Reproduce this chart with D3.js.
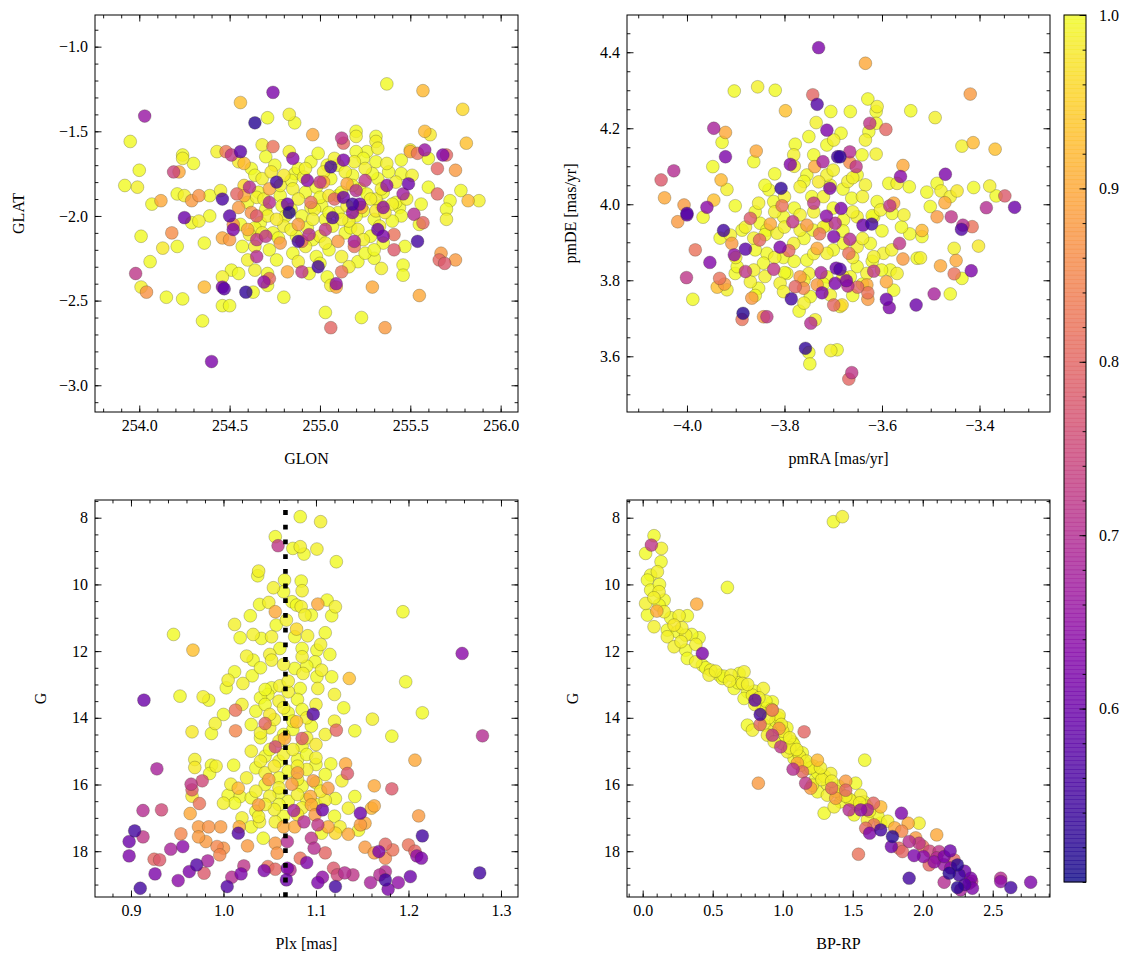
<!DOCTYPE html>
<html><head><meta charset="utf-8">
<script src="https://cdn.jsdelivr.net/npm/d3@7"></script>
<style>
body{margin:0;background:#fff}
svg{display:block}
text{font-family:"Liberation Serif","DejaVu Serif",serif;fill:#000}
</style>
</head><body>
<svg id="c" width="1133" height="965"></svg>
<script>
// ---------------- DATA ----------------
// [GLON, GLAT, membership probability]
const skyStars = [
[254.03,-1.41,0.66],[253.95,-1.56,1.0],[254.56,-1.33,0.93],[254.74,-1.27,0.62],[254.64,-1.45,0.52],[254.71,-1.42,1.0],
[254.83,-1.40,0.99],[254.86,-1.45,1.0],[254.68,-1.58,0.99],[254.74,-1.59,0.82],[254.00,-1.73,1.0],[253.92,-1.82,1.0],
[253.99,-1.83,0.99],[254.24,-1.64,1.0],[254.24,-1.66,0.99],[254.30,-1.69,1.0],[254.19,-1.74,0.74],[254.22,-1.74,0.9],
[254.43,-1.62,0.99],[254.48,-1.62,0.83],[254.51,-1.64,0.72],[254.56,-1.62,0.58],[254.55,-1.68,0.98],[254.58,-1.69,0.92],
[254.65,-1.89,0.99],[254.85,-1.66,0.64],[254.86,-1.75,1.0],[254.07,-1.93,1.0],[254.12,-1.91,0.9],[254.21,-1.87,1.0],
[254.25,-1.88,0.99],[254.29,-1.91,0.88],[254.33,-1.88,0.87],[254.39,-1.88,1.0],[254.45,-1.85,0.99],[254.46,-1.90,0.56],
[254.54,-1.87,0.8],[254.61,-1.83,0.7],
[255.37,-1.22,1.0],[255.57,-1.26,0.92],[255.79,-1.37,0.96],[254.96,-1.52,0.9],[255.12,-1.54,0.72],[255.13,-1.57,0.8],
[255.20,-1.50,1.0],[255.20,-1.53,0.99],[255.31,-1.53,1.0],[255.31,-1.56,0.99],[255.26,-1.62,1.0],[255.32,-1.60,0.99],
[255.20,-1.62,1.0],[255.31,-1.68,1.0],[255.19,-1.68,0.99],[255.58,-1.50,0.92],[255.61,-1.52,0.98],[255.81,-1.57,0.93],
[255.50,-1.61,0.99],[255.50,-1.62,0.9],[255.54,-1.63,0.82],[255.58,-1.61,0.66],[255.60,-1.66,1.0],[255.68,-1.64,0.63],
[255.70,-1.64,0.8],[255.45,-1.67,1.0],[255.65,-1.72,0.8],[255.75,-1.73,0.88],[255.45,-1.75,1.0],[255.51,-1.76,0.99],
[255.60,-1.83,1.0],[255.78,-1.85,1.0],[255.65,-1.87,0.8],[255.72,-1.91,1.0],[255.82,-1.91,0.92],[255.88,-1.91,0.99],
[255.70,-1.96,1.0],[255.06,-1.71,0.55],[255.13,-1.67,0.62],[255.02,-1.80,0.9],[254.93,-1.79,0.64],[255.25,-1.79,0.72],
[255.15,-1.81,0.9],[255.20,-1.85,0.7],[255.37,-1.82,0.65],[255.49,-1.81,0.6],[255.46,-1.87,0.67],[255.13,-1.89,0.6],
[255.18,-1.93,0.55],[255.08,-1.90,0.8],[255.23,-1.95,0.9],[255.01,-1.94,1.0],[254.95,-1.95,0.99],[255.10,-1.88,1.0],
[255.31,-1.90,0.99],[255.34,-1.94,1.0],[255.40,-1.93,0.99],[255.44,-1.95,1.0],[255.31,-1.97,0.98],[255.56,-1.93,1.0],
[254.25,-2.01,0.6],[254.29,-2.04,1.0],[254.33,-2.03,0.99],[254.39,-2.00,1.0],[254.50,-2.00,0.58],[254.52,-2.08,0.62],
[254.01,-2.12,1.0],[254.18,-2.10,0.86],[254.13,-2.19,0.98],[254.21,-2.18,1.0],[254.36,-2.16,1.0],[254.46,-2.13,0.9],
[254.50,-2.14,0.88],[254.57,-2.18,1.0],[254.61,-2.11,0.99],[254.56,-2.05,1.0],[254.65,-2.14,0.72],[254.70,-2.12,0.72],
[254.65,-2.24,0.7],[254.64,-2.32,0.99],[254.71,-2.34,1.0],[254.80,-2.48,1.0],[254.06,-2.27,1.0],[253.98,-2.34,0.72],
[254.01,-2.42,0.99],[254.04,-2.45,0.87],[254.15,-2.48,1.0],[254.24,-2.49,1.0],[254.36,-2.42,0.92],[254.35,-2.62,1.0],
[254.40,-2.86,0.62],[254.46,-2.42,0.62],[254.47,-2.43,0.58],[254.46,-2.53,1.0],[254.50,-2.53,1.0],[254.46,-2.36,0.99],
[254.51,-2.32,1.0],[254.55,-2.34,1.0],[254.59,-2.45,0.53],[254.63,-2.45,1.0],[254.69,-2.39,0.65],[254.72,-2.37,0.8],
[254.71,-2.41,1.0],[254.82,-2.33,0.9],[254.90,-2.33,0.72],[254.83,-1.98,0.52],[254.88,-2.15,0.55],
[255.07,-2.01,0.57],[255.18,-1.98,0.64],[254.94,-2.11,0.7],[255.03,-2.08,0.72],[255.19,-2.15,0.68],[255.19,-2.18,0.82],
[255.32,-2.08,0.6],[255.35,-2.12,0.62],[255.41,-2.11,0.82],[255.41,-2.20,0.78],[255.54,-2.15,0.55],[255.47,-2.18,1.0],
[255.52,-1.99,0.7],[255.57,-2.04,0.8],[255.70,-2.02,0.99],[255.55,-2.05,1.0],[255.67,-2.22,0.88],[255.75,-2.26,0.88],
[255.66,-2.26,0.8],[255.69,-2.28,0.78],[255.21,-2.27,1.0],[255.30,-2.25,1.0],[255.34,-2.31,0.99],[255.46,-2.29,1.0],
[255.46,-2.35,1.0],[255.29,-2.42,0.9],[255.55,-2.47,0.9],[255.03,-2.57,1.0],[255.06,-2.66,0.8],[255.23,-2.60,1.0],
[255.36,-2.66,0.88],[254.99,-2.30,0.55],[255.09,-2.40,0.65],[255.09,-2.42,0.9],[255.12,-2.33,0.82],[255.04,-2.36,1.0],
[255.06,-2.41,0.99],[254.94,-2.34,1.0],
[254.62,-1.72,1.0],[254.68,-1.78,0.99],[254.75,-1.70,1.0],[254.80,-1.76,0.98],[254.88,-1.72,1.0],[254.95,-1.68,1.0],
[255.02,-1.74,0.99],[255.10,-1.70,1.0],[255.18,-1.76,1.0],[255.25,-1.72,0.99],[255.32,-1.78,1.0],[255.38,-1.74,1.0],
[254.58,-1.82,0.96],[254.66,-1.86,1.0],[254.72,-1.84,0.9],[254.78,-1.88,1.0],[254.85,-1.84,0.99],[254.92,-1.86,1.0],
[254.98,-1.83,1.0],[255.05,-1.88,0.98],[255.12,-1.86,1.0],[255.22,-1.84,1.0],[255.28,-1.90,0.99],[255.35,-1.86,1.0],
[255.42,-1.92,1.0],[254.55,-1.95,0.88],[254.62,-1.98,0.87],[254.70,-1.96,1.0],[254.76,-2.02,0.98],[254.84,-1.96,1.0],
[254.90,-2.00,1.0],[254.97,-1.96,0.99],[255.03,-2.02,1.0],[255.10,-1.98,1.0],[255.16,-2.03,0.99],[255.24,-1.97,1.0],
[255.30,-2.02,1.0],[255.36,-1.98,0.98],[255.45,-2.00,1.0],[254.52,-2.05,0.86],[254.60,-2.08,0.9],[254.67,-2.04,1.0],
[254.74,-2.10,1.0],[254.80,-2.06,0.99],[254.87,-2.12,1.0],[254.93,-2.07,1.0],[255.00,-2.12,0.99],[255.07,-2.06,1.0],
[255.14,-2.10,1.0],[255.21,-2.08,0.99],[255.28,-2.12,1.0],[254.64,-2.18,0.99],[254.72,-2.20,1.0],[254.78,-2.16,0.88],
[254.85,-2.22,1.0],[254.92,-2.18,0.99],[254.98,-2.24,1.0],[255.05,-2.20,1.0],[255.12,-2.24,0.99],[255.25,-2.22,1.0],
[254.82,-1.93,0.6],[254.72,-1.92,0.7],[254.95,-1.92,0.82],[254.88,-2.05,0.88],[255.00,-1.80,0.72],[254.76,-1.80,0.55],
[255.22,-1.93,0.62],[254.90,-2.15,0.8],[254.65,-2.00,0.78],[255.10,-2.15,0.88],[254.58,-1.88,0.9],[255.35,-1.95,0.65],
[254.70,-1.65,1.0],[254.83,-1.62,0.99],[254.99,-1.63,1.0],[255.08,-1.66,0.99],[255.24,-1.66,1.0],[255.37,-1.69,0.99],
[254.64,-1.76,1.0],[254.73,-1.74,0.98],[254.84,-1.79,1.0],[254.91,-1.77,0.99],[255.06,-1.78,1.0],[255.14,-1.74,0.99],
[255.29,-1.75,1.0],[255.42,-1.80,0.99],[254.60,-1.92,1.0],[254.69,-1.90,0.99],[254.79,-1.94,1.0],[254.88,-1.90,0.99],
[255.00,-1.89,1.0],[255.15,-1.94,0.99],[255.26,-1.87,1.0],[255.48,-1.90,0.99],[254.64,-2.07,1.0],[254.71,-2.00,0.99],
[254.81,-2.00,1.0],[254.96,-2.02,0.99],[255.05,-1.98,1.0],[255.12,-2.02,0.99],[255.20,-2.00,1.0],[255.33,-2.06,0.99],
[255.40,-2.03,1.0],[254.68,-2.10,0.99],[254.77,-2.13,1.0],[254.84,-2.08,0.99],[254.96,-2.14,1.0],[255.03,-2.16,0.99],
[255.17,-2.07,1.0],[255.24,-2.14,0.99],[255.35,-2.16,1.0],[254.60,-2.26,0.99],[254.76,-2.26,1.0],[254.88,-2.27,0.99],
[255.00,-2.28,1.0],[255.16,-2.30,0.99],[255.30,-2.20,1.0],[254.92,-1.72,0.99],[255.04,-1.70,1.0],[254.78,-1.82,0.99],
[255.18,-1.82,1.0],[255.34,-1.84,0.99]
];
// [pmRA, pmDE, membership probability]
const pmStars = [
[-3.730,4.412,0.62],[-3.903,4.298,1.0],[-3.855,4.309,0.99],[-3.819,4.300,1.0],[-3.742,4.288,0.8],[-3.733,4.263,0.57],
[-3.798,4.246,0.93],[-3.705,4.244,1.0],[-3.735,4.215,0.99],[-3.713,4.195,0.62],[-3.945,4.200,0.68],[-3.921,4.189,0.9],
[-3.928,4.163,1.0],[-3.921,4.125,0.62],[-3.858,4.140,0.9],[-3.863,4.112,1.0],[-3.947,4.099,1.0],[-4.027,4.088,0.7],
[-4.053,4.064,0.78],[-3.930,4.064,0.92],[-3.918,4.039,0.99],[-4.046,4.017,0.9],[-4.006,3.998,0.88],[-4.000,3.976,0.57],
[-3.959,3.992,0.64],[-3.945,4.011,0.93],[-3.901,3.996,1.0],[-3.778,4.158,1.0],[-3.781,4.130,0.99],[-3.750,4.178,1.0],
[-3.807,4.042,0.53],[-3.788,4.105,0.63],[-3.721,4.112,0.68],[-3.738,4.099,0.9],[-3.707,4.042,0.62],[-3.691,4.125,0.55],
[-3.805,3.996,0.82],[-3.740,4.003,0.72],[-3.832,4.038,1.0],[-3.853,4.003,0.99],[-3.822,4.007,1.0],[-3.768,4.046,0.99],
[-3.744,4.020,1.0],[-3.713,4.077,0.99],[-3.713,4.156,1.0],[-3.699,4.169,0.99],[-3.754,4.077,1.0],[-3.730,4.059,0.98],
[-3.706,4.050,1.0],
[-3.634,4.371,0.9],[-3.419,4.290,0.88],[-3.629,4.277,1.0],[-3.610,4.257,0.99],[-3.612,4.244,1.0],[-3.665,4.244,1.0],
[-3.541,4.246,1.0],[-3.491,4.228,0.99],[-3.625,4.213,0.72],[-3.592,4.197,0.8],[-3.612,4.213,1.0],[-3.684,4.187,1.0],
[-3.634,4.169,0.99],[-3.627,4.191,1.0],[-3.436,4.153,0.99],[-3.368,4.145,0.93],[-3.413,4.162,0.92],[-3.686,4.125,0.53],
[-3.666,4.138,0.7],[-3.666,4.110,0.86],[-3.653,4.099,0.72],[-3.641,4.130,1.0],[-3.612,4.132,0.99],[-3.557,4.102,0.9],
[-3.562,4.073,0.64],[-3.586,4.055,1.0],[-3.569,4.055,0.99],[-3.544,4.046,1.0],[-3.470,4.079,0.62],[-3.487,4.055,1.0],
[-3.479,4.035,0.99],[-3.508,4.032,1.0],[-3.446,4.035,0.98],[-3.412,4.044,1.0],[-3.379,4.048,0.99],[-3.366,4.022,1.0],
[-3.348,4.022,0.78],[-3.386,3.991,0.7],[-3.328,3.992,0.6],[-3.471,4.004,0.9],[-3.501,3.994,1.0],[-3.460,4.020,0.99],
[-3.584,3.996,0.72],[-3.576,4.003,0.9],[-3.684,3.989,0.62],[-3.610,4.007,1.0],[-3.634,4.051,0.99],[-3.662,4.016,1.0],
[-3.670,4.060,0.99],[-3.651,4.077,1.0],
[-4.000,3.972,0.6],[-4.019,3.954,0.88],[-3.967,3.966,1.0],[-3.925,3.931,0.55],[-3.932,3.911,1.0],[-3.911,3.919,0.99],
[-3.908,3.897,0.88],[-3.983,3.880,0.82],[-3.953,3.847,0.63],[-4.001,3.807,0.72],[-3.988,3.750,1.0],[-3.903,3.867,0.65],
[-3.880,3.882,0.58],[-3.880,3.823,0.72],[-3.933,3.805,0.82],[-3.923,3.790,0.88],[-3.938,3.782,0.93],[-3.901,3.818,1.0],
[-3.870,3.796,0.99],[-3.867,3.753,0.88],[-3.885,3.713,0.52],[-3.887,3.697,0.82],[-3.836,3.704,0.72],[-3.843,3.704,0.88],
[-3.786,3.751,0.55],[-3.770,3.719,1.0],[-3.746,3.687,0.7],[-3.737,3.696,0.99],[-3.757,3.621,0.53],[-3.750,3.610,1.0],
[-3.748,3.580,1.0],[-3.705,3.615,0.99],[-3.822,3.829,0.72],[-3.809,3.887,0.62],[-3.791,3.878,0.8],[-3.851,3.906,0.8],
[-3.870,3.963,0.78],[-3.829,3.948,0.9],[-3.783,3.954,0.72],[-3.754,3.945,0.88],[-3.714,3.969,0.64],[-3.696,3.950,0.7],
[-3.699,3.915,0.62],[-3.728,3.922,0.82],[-3.733,3.884,0.9],[-3.725,3.820,0.68],[-3.723,3.767,0.62],[-3.694,3.832,0.6],
[-3.696,3.792,0.62],[-3.778,3.783,0.8],[-3.761,3.779,0.85],[-3.768,3.809,0.88],[-3.733,3.788,0.88],[-3.699,3.735,0.8],
[-3.850,3.950,1.0],[-3.815,3.924,0.99],[-3.802,3.967,1.0],[-3.768,3.972,0.99],[-3.741,3.932,1.0],[-3.713,3.945,0.99],
[-3.836,3.871,1.0],[-3.781,3.897,0.99],[-3.754,3.853,1.0],[-3.713,3.871,0.99],[-3.843,3.845,1.0],[-3.809,3.792,0.99],
[-3.795,3.818,1.0],[-3.750,3.818,0.99],[-3.713,3.809,1.0],[-3.863,3.827,0.99],[-3.853,3.779,1.0],[-3.802,3.770,0.99],
[-3.747,3.757,1.0],[-3.706,3.761,0.99],[-3.897,3.836,1.0],[-3.918,3.775,0.99],[-3.887,3.932,1.0],[-3.863,3.911,0.99],
[-3.836,3.932,1.0],[-3.768,3.932,0.99],[-3.802,3.860,1.0],
[-3.487,3.967,0.88],[-3.458,3.967,0.72],[-3.434,3.945,0.7],[-3.437,3.934,0.57],[-3.415,3.941,0.82],[-3.639,3.945,0.6],
[-3.621,3.948,0.55],[-3.543,3.922,1.0],[-3.518,3.931,0.92],[-3.518,3.915,1.0],[-3.452,3.884,0.99],[-3.402,3.890,0.98],
[-3.448,3.852,0.9],[-3.480,3.838,0.9],[-3.452,3.817,0.82],[-3.436,3.805,1.0],[-3.417,3.825,0.62],[-3.564,3.897,0.72],
[-3.557,3.856,0.88],[-3.528,3.858,1.0],[-3.521,3.859,0.99],[-3.617,3.824,0.72],[-3.591,3.796,0.9],[-3.591,3.750,0.6],
[-3.585,3.728,0.62],[-3.530,3.735,0.6],[-3.493,3.764,0.68],[-3.460,3.764,1.0],[-3.576,3.774,1.0],[-3.569,3.818,0.99],
[-3.583,3.827,1.0],[-3.631,3.788,0.9],[-3.629,3.767,0.82],[-3.629,3.750,0.88],[-3.650,3.782,0.8],[-3.673,3.799,0.62],
[-3.670,3.785,0.7],[-3.686,3.829,0.57],[-3.666,3.908,0.7],[-3.668,3.871,0.82],[-3.662,3.557,0.72],[-3.668,3.540,0.8],
[-3.682,3.735,0.96],[-3.692,3.617,1.0],
[-3.679,3.959,1.0],[-3.651,3.967,0.99],[-3.617,3.967,1.0],[-3.603,3.985,0.99],[-3.579,3.976,1.0],[-3.555,3.972,0.99],
[-3.679,3.897,1.0],[-3.651,3.888,0.99],[-3.624,3.897,1.0],[-3.597,3.871,0.99],[-3.651,3.836,1.0],[-3.617,3.862,0.99],
[-3.665,3.809,1.0],[-3.631,3.818,0.99],[-3.601,3.827,1.0],[-3.686,3.731,0.99],
[-3.84,4.05,1.0],[-3.80,4.02,0.99],[-3.76,4.06,1.0],[-3.72,4.02,0.99],[-3.68,4.04,1.0],[-3.64,4.02,0.99],
[-3.86,3.98,1.0],[-3.82,3.98,0.99],[-3.78,3.99,1.0],[-3.74,3.98,0.99],[-3.70,3.99,1.0],[-3.66,3.98,0.99],[-3.62,3.97,1.0],
[-3.88,3.94,0.99],[-3.84,3.92,1.0],[-3.80,3.94,0.99],[-3.76,3.91,1.0],[-3.72,3.94,0.99],[-3.68,3.93,1.0],[-3.64,3.91,0.99],
[-3.60,3.93,1.0],[-3.86,3.88,1.0],[-3.82,3.86,0.99],[-3.78,3.85,1.0],[-3.74,3.87,0.99],[-3.70,3.88,1.0],[-3.66,3.86,0.99],
[-3.62,3.85,1.0],[-3.84,3.81,0.99],[-3.80,3.82,1.0],[-3.76,3.80,0.99],[-3.72,3.79,1.0],[-3.68,3.81,0.99],[-3.64,3.79,1.0],
[-3.78,4.10,0.99],[-3.74,4.13,1.0],[-3.70,4.09,0.99],[-3.82,4.08,1.0],[-3.66,4.07,0.99],[-3.90,3.86,0.99],[-3.86,3.76,1.0],
[-3.76,3.74,0.99],[-3.66,3.76,1.0],[-3.58,3.88,0.99],[-3.56,3.94,1.0]
];
// [Plx, G, membership probability]
const plxStars = [
[1.083,7.97,1.0],[1.105,8.12,0.99],[1.056,8.57,1.0],[1.059,8.84,0.72],[1.075,8.92,1.0],[1.083,8.87,0.99],
[1.087,9.09,1.0],[1.101,8.94,0.99],[1.122,9.32,1.0],[1.038,9.60,0.99],[1.037,9.74,1.0],[1.066,9.87,1.0],
[1.054,10.10,0.99],[1.065,10.22,1.0],[1.084,9.90,1.0],[1.085,10.19,0.99],[1.039,10.60,1.0],[1.049,10.54,0.99],
[1.056,10.82,0.9],[1.102,10.59,0.9],[1.112,10.47,1.0],[1.121,10.67,0.99],[1.117,10.94,1.0],[1.074,10.52,1.0],
[1.084,10.67,0.99],[1.079,10.62,1.0],[1.088,10.92,0.99],[1.095,10.92,1.0],[1.029,10.94,1.0],[1.012,11.20,0.99],
[0.946,11.50,1.0],[0.967,11.97,0.93],[1.018,11.60,1.0],[1.032,11.50,0.99],[1.041,11.62,1.0],[1.052,11.57,0.99],
[1.057,11.22,1.0],[1.068,11.07,0.99],[1.079,11.34,0.96],[1.077,11.57,1.0],[1.091,11.54,0.99],[1.110,11.45,1.0],
[1.032,12.27,1.0],[1.050,12.10,0.99],[1.061,11.92,1.0],[1.052,12.27,0.99],[1.085,11.92,1.0],[1.085,12.17,0.99],
[1.101,11.97,1.0],[1.105,11.80,0.99],[1.099,12.32,1.0],[1.136,12.82,0.93],[1.194,10.82,1.0],[1.197,12.92,1.0],
[1.258,12.07,0.64],[1.012,12.62,1.0],[1.005,12.87,0.99],[1.003,13.10,1.0],[1.021,12.97,0.99],[1.031,12.74,1.0],
[1.052,13.10,1.0],[1.061,13.04,0.99],[1.048,13.30,1.0],[1.070,13.22,0.99],[1.077,12.52,1.0],[1.086,12.67,0.99],
[1.101,12.77,1.0],[1.106,12.57,0.99],[1.117,12.77,1.0],[1.102,13.12,0.99],[1.083,13.12,1.0],
[0.914,13.47,0.6],[0.953,13.35,1.0],[0.978,13.37,0.99],[0.984,13.47,1.0],[1.013,13.77,0.82],[1.097,13.89,0.57],
[1.122,14.37,0.8],[1.142,14.39,1.0],[1.161,14.04,0.99],[1.182,14.55,1.0],[1.215,13.85,1.0],[1.280,14.54,0.7],
[1.207,15.27,0.9],[1.182,16.13,0.78],[1.163,16.04,0.9],[1.163,16.64,0.9],[1.160,16.71,0.92],[1.142,16.36,1.0],
[1.148,16.86,0.6],[1.211,16.94,0.88],[1.215,17.54,0.55],[1.200,17.81,0.82],[1.207,18.00,0.8],[1.214,18.21,0.62],
[1.209,18.14,0.65],[1.277,18.65,0.55],[1.202,18.76,0.6],[1.189,18.94,0.65],[1.178,19.14,0.62],[1.175,18.86,0.55],
[1.175,18.61,0.7],[1.169,18.71,0.7],[1.159,18.94,0.68],[1.168,18.01,0.62],[1.175,17.79,0.8],[1.183,17.96,0.82],
[1.175,18.21,0.85],[1.153,17.88,0.88],[1.163,18.05,0.88],[1.110,18.05,0.8],[1.140,18.71,0.72],[1.131,18.65,0.7],
[1.123,18.71,0.75],[1.119,18.51,0.78],[1.107,18.78,0.65],[1.102,18.94,0.62],[1.121,19.06,0.55],[1.090,18.34,0.62],
[1.083,18.21,0.82],[1.098,17.91,0.7],[1.095,17.61,0.72],[1.102,17.21,0.72],[1.087,17.12,0.7],[1.107,16.76,0.6],
[1.076,16.78,0.68],[1.069,17.71,0.7],[1.069,18.51,0.62],[1.068,18.86,0.6],[1.072,18.56,0.7],[1.056,18.54,0.8],
[1.048,18.46,0.82],[1.044,18.58,0.62],[1.019,18.68,0.62],[1.009,18.78,0.7],[1.022,18.44,0.72],[1.004,19.06,0.57],
[0.979,18.66,0.78],[0.983,18.29,0.68],[0.971,18.41,0.57],[0.963,18.61,0.62],[0.951,18.88,0.64],[0.926,18.68,0.62],
[0.910,19.11,0.55],[0.925,18.24,0.8],[0.931,18.26,0.78],[0.898,18.14,0.62],[0.898,17.71,0.6],[0.904,17.39,0.55],
[0.913,17.57,0.72],[0.943,17.94,0.68],[0.956,17.86,0.64],[0.954,17.48,0.85],[0.913,16.78,0.7],[0.933,16.76,0.75],
[0.928,15.53,0.68],[0.965,15.99,0.72],[0.966,16.16,0.78],[0.977,15.89,0.75],[0.974,16.57,0.82],[0.964,16.87,0.9],
[0.966,16.35,0.98],[0.969,15.25,0.99],[0.969,15.49,0.98],[0.966,14.42,0.98],[0.987,14.47,1.0],[0.991,14.17,0.99],
[0.987,15.42,1.0],[0.992,15.45,0.99],[0.985,15.67,1.0],[1.011,15.42,1.0],[1.008,15.99,0.99],[1.005,16.32,1.0],
[1.016,16.11,0.92],[1.018,16.36,1.0],[1.000,16.56,0.99],[1.012,16.56,1.0],[1.017,17.27,0.9],[0.997,17.27,0.88],
[0.984,17.27,0.87],[0.973,17.27,0.88],[0.981,17.71,0.88],[0.993,17.86,0.85],[0.996,18.11,0.85],[1.000,17.91,0.87],
[0.973,17.57,0.88],[1.016,17.46,0.57],[1.026,17.84,0.88],[1.030,17.27,1.0],[1.039,17.12,0.99],[1.043,17.61,1.0],
[1.038,16.96,0.99],[1.056,17.76,0.88],[1.058,18.06,0.87],[1.065,17.27,0.9],[1.077,17.27,0.9],[1.056,17.12,0.99],
[1.099,16.91,0.88],[1.113,17.27,0.9],[1.121,17.46,0.96],[1.135,17.49,0.9],[1.148,17.21,0.88],[1.153,17.16,0.9],
[1.106,17.46,1.0],[1.126,17.27,0.99],[1.146,17.37,1.0],[1.135,16.71,0.99],[1.121,16.42,1.0],[1.110,16.47,0.99],
[1.113,16.11,0.88],[1.132,15.38,0.9],[1.134,15.67,0.78],[1.116,15.38,1.0],[1.128,15.89,0.99],[1.097,15.89,0.88],
[1.094,16.36,0.9],[1.095,16.61,0.9],[1.080,15.65,0.88],[1.074,15.99,0.88],[1.049,15.85,0.88],[1.038,16.61,0.88],
[1.085,14.62,0.78],[1.056,14.87,0.75],[1.045,14.17,0.8],[1.013,14.39,0.85],[1.066,14.62,0.9],[1.079,14.12,0.93],
[1.040,13.40,1.0],[1.060,13.50,0.99],[1.080,13.45,1.0],[1.100,13.60,0.99],[1.035,13.80,1.0],[1.050,13.90,0.98],
[1.070,13.85,1.0],[1.090,14.00,0.99],[1.030,14.20,1.0],[1.050,14.30,0.99],[1.075,14.35,1.0],[1.095,14.25,1.0],
[1.110,14.50,0.99],[1.040,14.60,1.0],[1.060,14.70,0.99],[1.085,14.85,1.0],[1.100,14.80,0.98],[1.030,15.00,0.99],
[1.045,15.15,1.0],[1.065,15.10,0.99],[1.080,15.25,1.0],[1.100,15.20,0.99],[1.035,15.50,1.0],[1.055,15.45,0.98],
[1.070,15.60,1.0],[1.090,15.55,0.99],[1.110,15.70,1.0],[1.025,15.80,0.99],[1.045,16.00,1.0],[1.060,16.10,0.99],
[1.085,16.05,1.0],[1.105,16.20,0.98],[1.030,16.40,1.0],[1.050,16.35,0.99],[1.070,16.50,1.0],[1.090,16.45,0.99],
[1.035,16.80,1.0],[1.055,16.75,0.99],[1.080,16.90,0.98],[1.120,16.95,1.0],[1.020,17.00,0.99],[1.065,16.95,1.0],
[1.045,13.60,1.0],[1.065,13.70,0.99],[1.085,13.75,1.0],[1.055,14.05,0.99],[1.075,14.10,1.0],[1.040,14.45,0.99],
[1.065,14.50,1.0],[1.090,14.60,0.99],[1.050,14.95,1.0],[1.075,14.95,0.99],[1.090,15.10,1.0],[1.040,15.30,0.99],
[1.060,15.30,1.0],[1.080,15.45,0.99],[1.100,15.40,1.0],[1.045,15.65,0.99],[1.060,15.80,1.0],[1.080,15.85,0.99],
[1.100,15.95,1.0],[1.035,16.20,0.99],[1.060,16.25,1.0],[1.080,16.30,0.99],[1.100,16.60,1.0],[1.045,16.60,0.99],
[1.060,16.60,1.0],[1.085,16.70,0.99],[1.045,13.15,1.0],[1.070,12.90,0.99],[1.040,12.50,1.0],[1.065,12.40,0.99],
[1.090,12.45,1.0],[1.025,12.15,0.99],[1.115,12.10,1.0],[1.120,13.30,0.99],[1.130,13.70,1.0],[1.020,13.60,0.99],
[1.000,13.90,1.0],[1.120,14.10,0.99]
];
// [BP-RP, G, membership probability]
const cmdStars = [
[1.362,8.12,1.0],[1.426,7.97,0.99],[0.081,8.54,1.0],[0.062,8.82,0.72],[0.021,9.07,1.0],[0.134,8.92,0.99],
[0.131,9.32,1.0],[0.057,9.72,1.0],[0.105,9.62,0.99],[0.034,9.87,1.0],[0.021,10.57,0.99],[0.057,10.17,1.0],
[0.117,10.22,0.99],[0.153,10.47,1.0],[0.101,10.80,0.9],[0.605,10.09,1.0],[0.386,10.59,0.9],[0.117,10.62,1.0],
[0.153,10.82,0.99],[0.034,10.92,1.0],[0.081,11.27,0.99],[0.176,11.37,1.0],[0.260,10.94,0.99],[0.319,10.94,1.0],
[0.224,11.22,0.98],[0.176,11.57,0.99],[0.248,11.42,1.0],[0.307,11.52,0.99],[0.403,11.60,1.0],[0.224,11.87,0.99],
[0.307,11.97,1.0],[0.274,11.72,0.99],[0.426,12.07,0.62],[0.319,12.22,1.0],[0.379,12.32,0.99],[0.426,12.42,1.0],
[0.486,12.57,0.99],[0.546,12.72,1.0],[0.474,12.72,0.99],[0.569,12.82,1.0],[0.631,12.72,0.99],[0.689,12.67,1.0],
[0.724,12.62,0.99],[0.653,13.12,1.0],[0.712,12.97,0.99],[0.748,13.22,1.0],[0.784,13.32,0.99],[0.724,13.42,1.0],
[0.862,13.12,0.99],[0.802,13.47,0.58],[0.839,13.90,0.55],[0.839,14.20,0.8],[0.926,13.77,0.82],[0.926,13.52,1.0],
[0.974,13.92,0.99],[0.879,13.72,1.0],[0.748,14.22,1.0],[0.784,14.37,0.99],[0.869,14.22,1.0],[0.891,14.52,0.99],
[0.939,14.37,1.0],[0.974,14.32,0.88],[0.926,14.52,0.72],[0.986,14.87,0.72],[1.153,14.42,0.8],[1.069,14.72,1.0],
[0.939,14.72,0.99],[0.998,14.77,1.0],[1.034,15.02,0.99],[1.081,15.22,1.0],[1.129,15.42,0.99],[1.176,15.52,1.0],
[1.074,15.54,0.7],[1.105,15.36,0.9],[1.164,15.96,0.72],[1.141,15.62,0.8],[1.200,16.11,0.88],[0.826,15.96,0.88],
[1.248,15.27,0.92],[1.586,15.27,1.0],[1.343,15.67,0.99],[1.236,15.82,1.0],[1.212,16.02,0.99],[1.248,16.22,1.0],
[1.350,16.11,0.8],[1.450,15.90,0.88],[1.450,16.17,0.8],[1.521,15.96,1.0],[1.319,16.32,0.99],[1.296,16.86,1.0],
[1.367,16.67,0.99],[1.414,16.52,1.0],[1.557,16.32,0.99],[1.581,16.52,1.0],[1.379,16.41,0.88],[1.474,16.76,0.7],
[1.557,16.76,0.65],[1.605,16.76,0.68],[1.648,16.56,0.8],[1.700,16.67,0.92],[1.510,16.91,1.0],[1.605,17.06,0.99],
[1.700,17.16,1.0],[1.848,16.86,0.62],[1.896,17.16,0.9],[1.974,17.16,0.99],[1.652,17.21,0.82],[1.593,17.31,0.8],
[1.700,17.36,0.55],[1.621,17.46,0.62],[1.784,17.56,0.52],[1.776,17.86,0.6],[1.903,17.71,0.7],[1.974,17.76,0.72],
[2.100,17.51,0.9],[1.831,17.91,0.8],[1.855,18.01,0.8],[1.938,18.13,0.62],[2.005,18.16,0.64],[1.541,18.09,0.82],
[2.081,18.32,0.65],[2.153,18.16,0.62],[2.117,18.01,0.72],[2.196,17.99,0.6],[2.046,18.41,0.8],[2.224,18.26,0.8],
[2.248,18.41,0.52],[2.189,18.66,0.52],[2.260,18.71,0.55],[2.343,18.81,0.62],[2.248,19.09,0.52],[2.271,19.16,0.68],
[2.331,18.96,0.65],[2.153,18.93,0.7],[1.903,18.81,0.55],[2.355,19.11,0.62],[2.557,18.81,0.7],[2.557,18.91,0.65],
[2.629,19.09,0.55],[2.771,18.93,0.62],
[0.800,13.60,0.99],[0.850,13.80,1.0],[0.900,14.00,0.99],[0.950,14.10,1.0],[1.000,14.40,0.99],[1.020,14.55,1.0],
[1.050,14.90,0.99],[1.100,15.00,1.0],[1.120,15.15,0.99],[1.150,15.30,1.0],[1.200,15.50,0.99],[1.250,15.65,1.0],
[1.280,15.85,0.99],[1.320,16.00,1.0],[1.380,16.20,0.99],[1.420,16.30,1.0],[1.480,16.45,0.99],[1.530,16.60,1.0],
[1.620,16.80,0.99],[1.680,16.95,1.0],[1.750,17.10,0.99],[1.800,17.30,0.9],[1.850,17.40,0.85],[1.950,17.60,0.88],
[2.000,17.85,0.82],[2.050,18.00,0.75],[2.100,18.20,0.7],[2.150,18.40,0.66],[2.200,18.50,0.64],[2.300,18.60,0.6],
[2.300,19.00,0.57],[2.350,18.90,0.7],
[0.450,12.50,1.0],[0.520,12.60,0.99],[0.580,12.75,1.0],[0.620,12.90,0.99],[0.680,12.95,1.0],[0.750,13.00,0.99],
[0.800,13.20,1.0],[0.830,13.40,0.99],[0.880,13.50,1.0],[0.920,13.75,0.99],[0.970,14.00,1.0],[0.990,14.20,0.99],
[1.030,14.30,1.0],[1.050,14.60,0.99],[1.080,14.80,1.0],[1.100,14.95,0.99],[1.140,15.05,1.0],[1.170,15.30,0.99],
[1.220,15.45,1.0],[1.270,15.50,0.99],[1.300,15.75,1.0],[1.350,15.90,0.99],[1.400,16.05,1.0],[1.450,16.35,0.99],
[1.500,16.50,1.0],[1.550,16.55,0.99],[1.600,16.65,1.0],[0.200,11.00,1.0],[0.280,11.30,0.99],[0.350,11.50,1.0],
[0.380,11.80,0.99],[0.120,10.00,1.0],[0.080,10.40,0.99]
];
const plxLine = 1.067;           // vertical dotted reference line (mas)
const glonTicks = [254.0,254.5,255.0,255.5,256.0];
const glatTicks = [-3.0,-2.5,-2.0,-1.5,-1.0];
const pmraTicks = [-4.0,-3.8,-3.6,-3.4];
const pmdeTicks = [3.6,3.8,4.0,4.2,4.4];
const plxTicks = [0.9,1.0,1.1,1.2,1.3];
const gTicks = [8,10,12,14,16,18];
const bprpTicks = [0.0,0.5,1.0,1.5,2.0,2.5];
const probTicks = [0.6,0.7,0.8,0.9,1.0];
const probLimits = [0.5,1.0];

// ---------------- DRAWING ----------------
const svg = d3.select('#c');
const FS = 16;
const FONT = '"Liberation Serif","DejaVu Serif",serif';
const cNorm = d3.scaleLinear().domain(probLimits).range([0,1]).clamp(true);
const colorOf = p => d3.interpolatePlasma(cNorm(p));

function minorTicks(lim, step){
  const lo=Math.min(lim[0],lim[1]), hi=Math.max(lim[0],lim[1]);
  const out=[]; let k=Math.ceil(lo/step-1e-9);
  while(k*step<=hi+1e-9){ out.push(+(k*step).toFixed(6)); k++; }
  return out;
}
const style = a => { a.select('.domain').remove(); a.selectAll('line').attr('stroke','#000').attr('stroke-width',0.9);
  a.selectAll('text').attr('font-size',FS).attr('font-family',FONT).attr('fill','#000'); };

function panel(cfg){
  const [L,T,R,B] = cfg.box;
  const g = svg.append('g');
  const x = d3.scaleLinear().domain(cfg.xlim).range([L,R]);
  const y = d3.scaleLinear().domain(cfg.ylim).range([B,T]);
  const cid = 'clip'+cfg.id;
  svg.append('clipPath').attr('id',cid).append('rect').attr('x',L).attr('y',T).attr('width',R-L).attr('height',B-T);
  const pts = cfg.data.slice().sort((a,b)=>b[2]-a[2]);
  g.append('g').attr('clip-path',`url(#${cid})`).selectAll('circle').data(pts).join('circle')
    .attr('cx',d=>x(d[0])).attr('cy',d=>y(d[1])).attr('r',6.4)
    .attr('fill',d=>colorOf(d[2])).attr('fill-opacity',0.8)
    .attr('stroke','#3a3a20').attr('stroke-opacity',0.55).attr('stroke-width',0.5);
  if(cfg.vline!==undefined){
    g.append('line').attr('clip-path',`url(#${cid})`)
      .attr('x1',x(cfg.vline)).attr('x2',x(cfg.vline)).attr('y1',T).attr('y2',B)
      .attr('stroke','#000').attr('stroke-width',4.6).attr('stroke-dasharray','4.8 9.9').attr('stroke-dashoffset',4.6);
  }
  const MJ=6.5, MN=3.4;
  const xMinor = minorTicks(cfg.xlim, cfg.xMinorStep), yMinor = minorTicks(cfg.ylim, cfg.yMinorStep);
  g.append('g').attr('transform',`translate(0,${B})`).call(d3.axisBottom(x).tickValues(xMinor).tickSize(-MN).tickFormat('')).call(style);
  g.append('g').attr('transform',`translate(0,${B})`).call(d3.axisBottom(x).tickValues(cfg.xTicks).tickSize(-MJ).tickPadding(8).tickFormat(d3.format(cfg.xFmt))).call(style);
  g.append('g').attr('transform',`translate(0,${T})`).call(d3.axisTop(x).tickValues(xMinor).tickSize(-MN).tickFormat('')).call(style);
  g.append('g').attr('transform',`translate(0,${T})`).call(d3.axisTop(x).tickValues(cfg.xTicks).tickSize(-MJ).tickFormat('')).call(style);
  g.append('g').attr('transform',`translate(${L},0)`).call(d3.axisLeft(y).tickValues(yMinor).tickSize(-MN).tickFormat('')).call(style);
  g.append('g').attr('transform',`translate(${L},0)`).call(d3.axisLeft(y).tickValues(cfg.yTicks).tickSize(-MJ).tickPadding(7).tickFormat(d3.format(cfg.yFmt))).call(style);
  g.append('g').attr('transform',`translate(${R},0)`).call(d3.axisRight(y).tickValues(yMinor).tickSize(-MN).tickFormat('')).call(style);
  g.append('g').attr('transform',`translate(${R},0)`).call(d3.axisRight(y).tickValues(cfg.yTicks).tickSize(-MJ).tickFormat('')).call(style);
  g.append('rect').attr('x',L).attr('y',T).attr('width',R-L).attr('height',B-T).attr('fill','none').attr('stroke','#000').attr('stroke-width',1);
  g.append('text').attr('x',(L+R)/2).attr('y',cfg.xLabelY).attr('text-anchor','middle').attr('font-size',FS).attr('font-family',FONT).text(cfg.xLabel);
  g.append('text').attr('transform',`translate(${cfg.yLabelX},${(T+B)/2}) rotate(-90)`).attr('text-anchor','middle').attr('dy','0.35em').attr('font-size',FS).attr('font-family',FONT).text(cfg.yLabel);
}

panel({id:'A',data:skyStars,box:[95,15,518,412],xlim:[253.755,256.096],ylim:[-3.158,-0.813],
  xTicks:glonTicks,yTicks:glatTicks,xMinorStep:0.1,yMinorStep:0.1,xFmt:'.1f',yFmt:'.1f',
  xLabel:'GLON',yLabel:'GLAT',xLabelY:464,yLabelX:18});
panel({id:'B',data:pmStars,box:[627,15,1050,412],xlim:[-4.123,-3.2554],ylim:[3.4534,4.498],
  xTicks:pmraTicks,yTicks:pmdeTicks,xMinorStep:0.05,yMinorStep:0.05,xFmt:'.1f',yFmt:'.1f',
  xLabel:'pmRA [mas/yr]',yLabel:'pmDE [mas/yr]',xLabelY:464,yLabelX:570});
panel({id:'C',data:plxStars,box:[95,500,518,897],xlim:[0.8611,1.3184],ylim:[19.373,7.469],
  xTicks:plxTicks,yTicks:gTicks,xMinorStep:0.02,yMinorStep:0.5,xFmt:'.1f',yFmt:'d',
  xLabel:'Plx [mas]',yLabel:'G',xLabelY:949,yLabelX:40,vline:plxLine});
panel({id:'D',data:cmdStars,box:[627,500,1050,897],xlim:[-0.112,2.909],ylim:[19.373,7.469],
  xTicks:bprpTicks,yTicks:gTicks,xMinorStep:0.1,yMinorStep:0.5,xFmt:'.1f',yFmt:'d',
  xLabel:'BP-RP',yLabel:'G',xLabelY:949,yLabelX:572});

// colorbar
(function(){
  const L=1064,R=1086,T=15,B=882;
  const cy = d3.scaleLinear().domain(probLimits).range([B,T]);
  const g = svg.append('g');
  const steps = d3.range(0,200);
  const dv = (probLimits[1]-probLimits[0])/200;
  g.selectAll('rect.cb').data(steps).join('rect').attr('class','cb')
    .attr('x',L).attr('width',R-L)
    .attr('y',i=>cy(probLimits[0]+(i+1)*dv)-0.3).attr('height',i=>cy(probLimits[0]+i*dv)-cy(probLimits[0]+(i+1)*dv)+0.6)
    .attr('fill',i=>d3.interpolatePlasma((i+0.5)/200)).attr('fill-opacity',0.8);
  g.append('g').attr('transform',`translate(${R},0)`).call(d3.axisRight(cy).tickValues(minorTicks(probLimits,0.02)).tickSize(-3.4).tickFormat('')).call(style);
  g.append('g').attr('transform',`translate(${R},0)`).call(d3.axisRight(cy).tickValues(probTicks).tickSize(-6.5).tickPadding(13).tickFormat(d3.format('.1f'))).call(style);
  g.append('rect').attr('x',L).attr('y',T).attr('width',R-L).attr('height',B-T).attr('fill','none').attr('stroke','#000').attr('stroke-width',1);
})();
</script>
</body></html>
